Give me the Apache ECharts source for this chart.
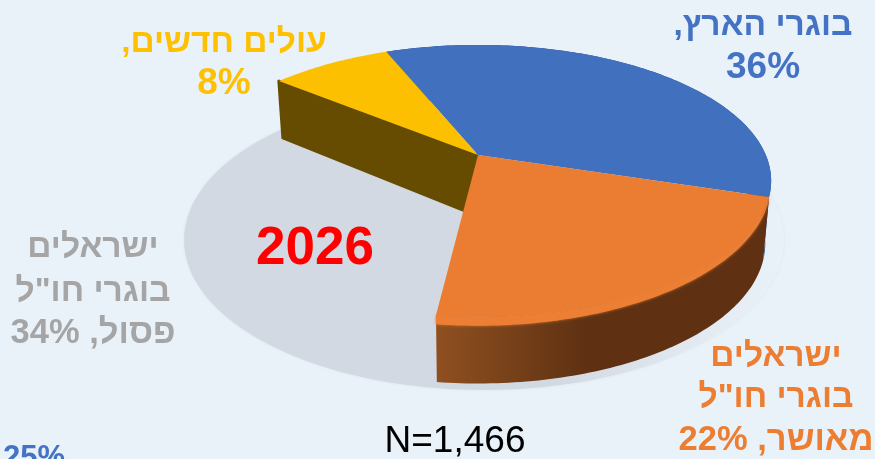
<!DOCTYPE html>
<html>
<head>
<meta charset="utf-8">
<title>2026</title>
<script src="https://cdn.jsdelivr.net/npm/echarts@6/dist/echarts.min.js"></script>
<style>
html, body { margin: 0; padding: 0; background: #e9f1f9; }
#chart { width: 875px; height: 459px; }
</style>
</head>
<body>
<div id="chart" dir="rtl"></div>
<script>
// slices, clockwise from the blue one
const categories = ['בוגרי הארץ', 'ישראלים בוגרי חו"ל מאושר', 'ישראלים בוגרי חו"ל פסול', 'עולים חדשים'];
const values = [36, 22, 34, 8];
// label text above the number, the value gets added to the last line
const labelLines = [
  ['בוגרי הארץ,', ''],
  ['ישראלים', 'בוגרי חו"ל', 'מאושר, '],
  ['ישראלים', 'בוגרי חו"ל', 'פסול, '],
  ['עולים חדשים,', '']
];
const yearText = '2026';
const sampleText = 'N=1,466';
const cutOffText = '25%';

const topColors = ['#4170bf', '#eb7d32', null, '#fdc000'];
const labelColors = ['#4472c4', '#ed7d31', '#a5a5a5', '#ffc000'];
// center x of each label and the baseline of each of its lines
const labelX = [763, 776, 93, 224];
const labelBaselines = [[36, 80], [367, 408, 452], [258, 302, 345], [53, 96]];

// perspective of the disc
const cx = 478, cy = 155;
const A = 131, B = 287.8, k = 0.19;
const startAngle = -22;
const baseScale = 0.98;

function project(deg, bottom) {
  const rad = deg * Math.PI / 180;
  const u = Math.sin(rad), v = -Math.cos(rad);
  const s = 1 / (1 - k * v);
  const x = B * u * s, y = A * v * s;
  if (!bottom) return [cx + x, cy + y];
  return [cx + baseScale * x, cy + baseScale * y + 61 + 9 * v];
}

function arc(from, to, bottom) {
  const pts = [];
  const n = Math.max(2, Math.ceil(Math.abs(to - from)));
  for (let i = 0; i <= n; i++) pts.push(project(from + (to - from) * i / n, bottom));
  return pts;
}

const total = values.reduce((a, b) => a + b, 0);
function sliceAngles(i) {
  const before = values.slice(0, i).reduce((a, b) => a + b, 0);
  return [startAngle + before / total * 360, startAngle + (before + values[i]) / total * 360];
}

function renderSlice(params, api) {
  const i = params.dataIndex;
  const color = topColors[i];
  if (!color) return { type: 'group', children: [] };
  const [a0, a1] = sliceAngles(i);
  const rim = arc(a0, a1, false);
  const children = [];

  // outer wall, only the front part of it can be seen
  if (i === 0) {
    children.push({
      type: 'polygon', z2: 1,
      shape: { points: rim.concat(arc(a0, a1, true).reverse()) },
      style: { fill: '#2b4a80' }
    });
  }
  if (i === 1) {
    children.push({
      type: 'polygon', z2: 1,
      shape: { points: rim.concat(arc(a0, a1, true).reverse()) },
      style: {
        fill: {
          type: 'linear', x: 0, y: 0, x2: 1, y2: 0,
          colorStops: [
            { offset: 0, color: '#8f5020' },
            { offset: 0.45, color: '#5f3112' },
            { offset: 1, color: '#5f3112' }
          ]
        }
      }
    });
    // soft bevel on the edge, grows towards the viewer
    const bevel = rim.map((p, n) => {
      const deg = a0 + (a1 - a0) * n / (rim.length - 1);
      return [p[0], p[1] + 9 * Math.max(-Math.cos(deg * Math.PI / 180), 0)];
    });
    children.push({
      type: 'polygon', z2: 2,
      shape: { points: rim.concat(bevel.reverse()) },
      style: { fill: '#ed7f34', shadowBlur: 3, shadowColor: '#d9752f' }
    });
  }
  // cut face of the yellow slice
  if (i === 3) {
    children.push({
      type: 'polygon', z2: 1,
      shape: { points: [project(a0, false), [cx, cy], [cx, cy + 61], project(a0, true)] },
      style: { fill: '#654c00', stroke: '#654c00', lineWidth: 3, lineJoin: 'round' }
    });
  }
  children.push({
    type: 'polygon', z2: 5,
    shape: { points: [[cx, cy]].concat(rim) },
    style: { fill: color }
  });
  return { type: 'group', children: children };
}

// one text per line, the hebrew lines run narrower than the digits
const labelGraphics = [];
values.forEach((v, i) => {
  const lines = labelLines[i];
  lines.forEach((line, j) => {
    const last = j === lines.length - 1;
    const size = !last ? 33.5 : (line === '' ? 37 : 34.5);
    labelGraphics.push({
      type: 'text', z: 10,
      style: {
        x: labelX[i], y: labelBaselines[i][j] - 0.32 * size,
        text: last ? line + v + '%' : line,
        align: 'center', verticalAlign: 'middle',
        font: 'bold ' + size + 'px "Liberation Sans"',
        fill: labelColors[i]
      }
    });
  });
});

const chart = echarts.init(document.getElementById('chart'), null, { renderer: 'canvas' });
chart.setOption({
  backgroundColor: '#e9f1f9',
  animation: false,
  graphic: [
    {
      // shadow under the pie
      type: 'ellipse', z: 0, silent: true,
      shape: { cx: 484, cy: 240, rx: 300, ry: 150 },
      style: {
        fill: {
          type: 'linear', x: 0, y: 0, x2: 1, y2: 0,
          colorStops: [
            { offset: 0, color: '#d2d9e2' },
            { offset: 0.62, color: '#d2d9e2' },
            { offset: 0.9, color: '#e5ecf4' },
            { offset: 1, color: '#e9f1f9' }
          ]
        },
        shadowBlur: 3, shadowColor: 'rgba(210,217,226,0.5)'
      }
    },
    {
      type: 'text', z: 10,
      style: {
        x: 315, y: 249, text: yearText, align: 'center', verticalAlign: 'middle',
        font: 'bold 53px "Liberation Sans"', fill: '#ff0000'
      }
    },
    {
      type: 'text', z: 10,
      style: {
        x: 455, y: 442, text: sampleText, align: 'center', verticalAlign: 'middle',
        font: '37px "Liberation Sans"', fill: '#000000'
      }
    },
    {
      type: 'text', z: 10,
      style: {
        x: 34, y: 458, text: cutOffText, align: 'center', verticalAlign: 'middle',
        font: 'bold 31px "Liberation Sans"', fill: '#4472c4'
      }
    }
  ].concat(labelGraphics),
  series: [
    {
      type: 'custom',
      coordinateSystem: 'none',
      z: 3,
      silent: true,
      renderItem: renderSlice,
      data: values.map((v, i) => ({ name: categories[i], value: v }))
    }
  ]
});
</script>
</body>
</html>
